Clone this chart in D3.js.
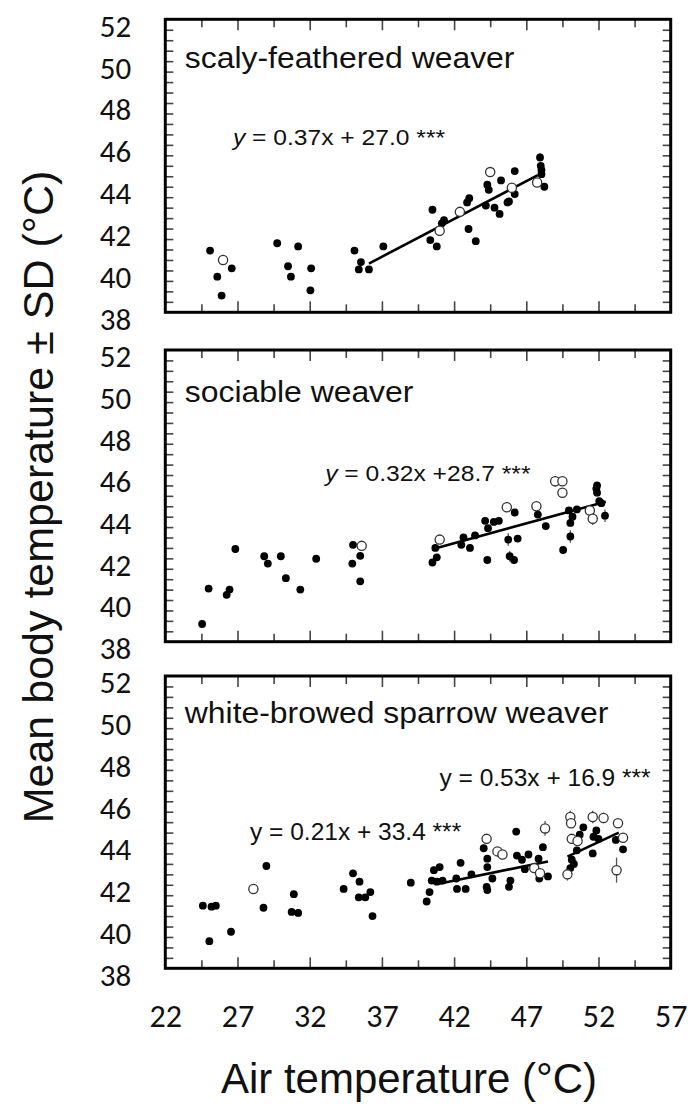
<!DOCTYPE html>
<html>
<head>
<meta charset="utf-8">
<script src="https://cdn.jsdelivr.net/npm/d3@7"></script>
<style>
  body { margin: 0; background: #fff; }
  text { fill: #111; }
</style>
</head>
<body>
<div id="chart"></div>
<script>
// ---- data (air temperature °C, body temperature °C, SD) ----
const xTicks = [22, 27, 32, 37, 42, 47, 52, 57];
const yTicks = [38, 40, 42, 44, 46, 48, 50, 52];
const speciesNames = ["scaly-feathered weaver", "sociable weaver", "white-browed sparrow weaver"];

const scalyFilled = [
  [25.1, 40.95], [25.6, 39.7], [25.9, 38.8], [26.6, 40.1],
  [29.75, 41.3], [30.5, 40.2], [30.7, 39.7], [31.2, 41.15], [32.1, 40.1], [32.05, 39.05],
  [35.1, 40.95], [35.55, 40.4], [35.4, 40.05], [36.1, 40.05], [37.1, 41.15],
  [40.5, 42.9], [40.35, 41.45], [40.8, 41.15], [41.15, 42.25], [41.3, 42.4],
  [43.0, 41.98], [43.5, 41.4], [42.9, 43.25], [43.05, 43.45],
  [44.2, 43.1], [44.3, 44.1], [44.4, 43.85], [44.8, 43.0], [45.15, 42.7], [45.25, 44.3],
  [45.7, 43.25], [45.8, 43.3], [46.2, 43.65], [46.2, 44.75],
  [47.95, 45.4, 0.2], [48.0, 45.0], [48.05, 44.8], [48.05, 44.6], [48.25, 44.0]
];
const scalyOpen = [
  [26.0, 40.5], [41.0, 41.9], [42.4, 42.8], [44.5, 44.7], [46.0, 43.95], [47.75, 44.2]
];
const scalyFit = [[36.1, 40.33], [47.8, 44.55]];

const sociableFilled = [
  [24.55, 38.85], [25.0, 40.55], [26.25, 40.25], [26.45, 40.5], [26.85, 42.45],
  [28.85, 42.1], [29.1, 41.75], [30.0, 42.1], [30.35, 41.05], [31.35, 40.5], [32.45, 41.98],
  [34.95, 41.75], [35.0, 42.65], [35.5, 42.12], [35.5, 40.9],
  [40.5, 41.8], [40.8, 42.05], [40.7, 42.5], [42.5, 42.65], [42.65, 43.0], [43.1, 42.5], [43.45, 43.1],
  [44.15, 43.8], [44.35, 43.45], [44.3, 41.92], [44.75, 43.75], [45.1, 43.8],
  [46.2, 44.2], [45.75, 42.9, 0.3], [45.85, 42.1, 0.25], [46.15, 41.92], [46.4, 42.95],
  [47.8, 44.1], [48.35, 43.55], [49.55, 42.4], [49.95, 44.3], [50.05, 43.7], [50.05, 43.05, 0.3],
  [50.2, 44.0], [50.5, 44.35],
  [51.85, 45.35], [51.9, 45.15], [51.9, 45.5], [52.05, 44.75], [52.2, 44.65], [52.45, 44.05, 0.3]
];
const sociableOpen = [
  [35.6, 42.6], [41.0, 42.9], [45.65, 44.45], [47.7, 44.5, 0.2], [49.0, 45.7, 0.25],
  [49.5, 45.7], [49.5, 45.15], [51.4, 44.3], [51.6, 43.9, 0.3]
];
const sociableFit = [[40.55, 42.45], [52.5, 44.72]];

const sparrowFilled = [
  [24.6, 41.0], [25.2, 40.95], [25.5, 41.0], [25.05, 39.3], [26.55, 39.75],
  [29.0, 42.9], [28.8, 40.9], [30.9, 41.55], [30.75, 40.7], [31.2, 40.65],
  [34.35, 41.8], [35.0, 42.55], [35.45, 42.15], [35.4, 41.4], [35.85, 41.4], [36.2, 41.65], [36.35, 40.5],
  [39.0, 42.1],
  [40.1, 41.2], [40.3, 41.65], [40.45, 42.2], [40.6, 42.7], [41.0, 42.85], [40.8, 42.15], [41.2, 42.2],
  [42.2, 41.8], [42.15, 42.3], [42.45, 43.05], [42.8, 41.8], [43.2, 42.5],
  [44.05, 43.75], [44.3, 43.25], [44.3, 42.85], [44.25, 41.9], [44.3, 41.75], [44.65, 42.3],
  [45.8, 41.9], [45.9, 42.2], [46.3, 44.55], [46.35, 43.4], [46.7, 43.2], [46.9, 42.75], [47.15, 43.45],
  [47.85, 43.25], [47.9, 42.3], [48.15, 43.8], [48.5, 42.4],
  [50.05, 42.8], [50.15, 43.2], [50.3, 43.0], [50.5, 43.65], [50.7, 44.4], [50.95, 44.75],
  [51.65, 44.3], [51.85, 44.6], [51.6, 43.5], [52.0, 44.2], [53.2, 44.15], [53.7, 43.7]
];
const sparrowOpen = [
  [28.1, 41.8], [44.25, 44.2], [45.0, 43.6], [45.35, 43.45], [47.55, 42.8], [47.95, 42.55],
  [48.3, 44.7, 0.35], [49.85, 42.5, 0.3], [50.05, 45.25, 0.3], [50.1, 44.95], [50.15, 44.2],
  [50.55, 44.1], [51.6, 45.25, 0.3], [52.35, 45.2, 0.25], [53.35, 44.95, 0.2], [53.25, 42.7, 0.6],
  [53.7, 44.25]
];
const sparrowFit1 = [[40.95, 42.05], [48.5, 43.12]];
const sparrowFit2 = [[49.85, 43.35], [53.4, 44.5]];

const equations = [
  [{ t: "y", it: true }, { t: " = 0.37x + 27.0 ***" }],
  [{ t: "y", it: true }, { t: " = 0.32x +28.7 ***" }],
  [{ t: "y = 0.21x + 33.4 ***" }],
  [{ t: "y = 0.53x + 16.9 ***" }]
];

// ---- layout ----
const W = 688, H = 1111;
const plotLeft = 165.3, plotRight = 670.7;
const panelTop = [19.3, 350, 676];
const panelH = [293, 291.7, 292.3];
const sansFont = "'Liberation Sans', Arial, sans-serif";
const tickFont = "Carlito, Lato, sans-serif";

const panels = [
  { name: speciesNames[0], filled: scalyFilled, open: scalyOpen, fits: [scalyFit],
    titleAt: [23.35, 49.68],
    eqs: [{ parts: equations[0], at: [26.68, 45.98], fs: 22, sx: 1.12 }] },
  { name: speciesNames[1], filled: sociableFilled, open: sociableOpen, fits: [sociableFit],
    titleAt: [23.35, 49.49],
    eqs: [{ parts: equations[1], at: [33.07, 45.71], fs: 22, sx: 1.12 }] },
  { name: speciesNames[2], filled: sparrowFilled, open: sparrowOpen, fits: [sparrowFit1, sparrowFit2],
    titleAt: [23.35, 49.73],
    eqs: [{ parts: equations[2], at: [27.87, 44.13], fs: 24.5, sx: 1.0 },
          { parts: equations[3], at: [40.99, 46.72], fs: 24.5, sx: 1.0 }] }
];

const svg = d3.select("#chart").append("svg")
  .attr("width", W)
  .attr("height", H);

const x = d3.scaleLinear().domain([22, 57]).range([0, plotRight - plotLeft]);

const minorX = d3.range(24.5, 57, 5);
const majorX = d3.range(27, 57, 5);
const yMinor = d3.range(38.5, 52, 0.5);

function stretchText(g, px, py, fs, sx, parts) {
  const t = g.append("text")
    .attr("transform", `translate(${px},${py}) scale(${sx},1)`)
    .style("font-family", sansFont)
    .style("font-size", fs + "px");
  parts.forEach(p => {
    t.append("tspan").text(p.t).style("font-style", p.it ? "italic" : "normal");
  });
  return t;
}

function cleanAxis(sel) {
  sel.select(".domain").remove();
  sel.selectAll(".tick line").attr("stroke", "#444").attr("stroke-width", 1.6);
}

panels.forEach((p, i) => {
  const h = panelH[i], w = plotRight - plotLeft;
  const y = d3.scaleLinear().domain([38, 52]).range([h, 0]);
  const g = svg.append("g").attr("transform", `translate(${plotLeft},${panelTop[i]})`);

  // inner ticks on all four sides
  g.append("g").call(d3.axisBottom(x).tickValues(minorX).tickSize(8).tickFormat("")).call(cleanAxis);
  g.append("g").call(d3.axisBottom(x).tickValues(majorX).tickSize(11).tickFormat("")).call(cleanAxis);
  g.append("g").attr("transform", `translate(0,${h})`)
    .call(d3.axisTop(x).tickValues(minorX).tickSize(8).tickFormat("")).call(cleanAxis);
  g.append("g").attr("transform", `translate(0,${h})`)
    .call(d3.axisTop(x).tickValues(majorX).tickSize(11).tickFormat("")).call(cleanAxis);
  g.append("g").call(d3.axisRight(y).tickValues(yMinor).tickSize(8).tickFormat("")).call(cleanAxis);
  g.append("g").attr("transform", `translate(${w},0)`)
    .call(d3.axisLeft(y).tickValues(yMinor).tickSize(8).tickFormat("")).call(cleanAxis);

  // y tick labels
  const yl = g.append("g").attr("transform", "translate(0,7)")
    .call(d3.axisLeft(y).tickValues(yTicks).tickSize(0).tickPadding(34).tickFormat(d3.format("d")));
  yl.select(".domain").remove();
  yl.selectAll("text").style("font-family", tickFont).style("font-size", "31px").attr("fill", "#111");

  // fitted lines
  const line = d3.line().x(d => x(d[0])).y(d => y(d[1]));
  p.fits.forEach(f => {
    g.append("path").datum(f).attr("d", line)
      .attr("fill", "none").attr("stroke", "#000").attr("stroke-width", 2.6);
  });

  // SD bars
  const withSd = p.filled.concat(p.open).filter(d => d[2]);
  g.selectAll(".sd").data(withSd).join("line")
    .attr("class", "sd")
    .attr("x1", d => x(d[0])).attr("x2", d => x(d[0]))
    .attr("y1", d => y(d[1] - d[2])).attr("y2", d => y(d[1] + d[2]))
    .attr("stroke", "#555").attr("stroke-width", 1.3);

  g.selectAll(".dot").data(p.filled).join("circle")
    .attr("class", "dot")
    .attr("cx", d => x(d[0])).attr("cy", d => y(d[1]))
    .attr("r", 3.9).attr("fill", "#000");

  g.selectAll(".open").data(p.open).join("circle")
    .attr("class", "open")
    .attr("cx", d => x(d[0])).attr("cy", d => y(d[1]))
    .attr("r", 4.6).attr("fill", "#fff").attr("stroke", "#333").attr("stroke-width", 1.3);

  // species name and regression equations
  stretchText(g, x(p.titleAt[0]), y(p.titleAt[1]), 29, 1.1, [{ t: p.name }]);
  p.eqs.forEach(e => stretchText(g, x(e.at[0]), y(e.at[1]), e.fs, e.sx, e.parts));

  // frame
  g.append("rect").attr("width", w).attr("height", h)
    .attr("fill", "none").attr("stroke", "#000").attr("stroke-width", 3);

  if (i === panels.length - 1) {
    const xl = g.append("g").attr("transform", `translate(0,${h})`)
      .call(d3.axisBottom(x).tickValues(xTicks).tickSize(0).tickPadding(36).tickFormat(d3.format("d")));
    xl.select(".domain").remove();
    xl.selectAll("text").style("font-family", tickFont).style("font-size", "32px").attr("fill", "#111");
  }
});

// axis titles
svg.append("text")
  .attr("x", 409).attr("y", 1093)
  .attr("text-anchor", "middle")
  .style("font-family", sansFont).style("font-size", "42px")
  .text("Air temperature (°C)");

svg.append("text")
  .attr("transform", "translate(53,497) rotate(-90)")
  .attr("text-anchor", "middle")
  .style("font-family", sansFont).style("font-size", "43px")
  .text("Mean body temperature ± SD (°C)");
</script>
</body>
</html>
